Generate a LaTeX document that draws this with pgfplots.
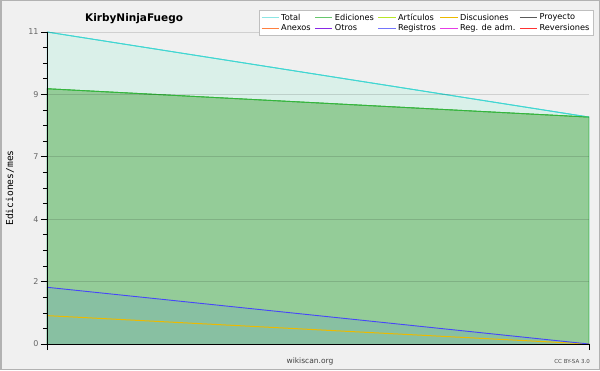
\documentclass[border=0pt]{standalone}
\usepackage{fontspec}
\setmainfont{DejaVu Sans}
\newfontfamily\monofont{DejaVu Sans Mono}
\usepackage{pgfplots}
\pgfplotsset{compat=1.18}
\definecolor{bgc}{RGB}{240,240,240}
\definecolor{cTotal}{RGB}{64,214,210}
\definecolor{fTotal}{RGB}{218,240,233}
\definecolor{cEdic}{RGB}{52,180,60}
\definecolor{fEdic}{RGB}{148,204,152}
\definecolor{cArt}{RGB}{184,230,40}
\definecolor{cDisc}{RGB}{236,186,0}
\definecolor{cProy}{RGB}{90,90,90}
\definecolor{cAnex}{RGB}{255,128,64}
\definecolor{cOtros}{RGB}{136,40,230}
\definecolor{cReg}{RGB}{70,70,250}
\definecolor{fReg}{RGB}{136,192,162}
\definecolor{cRegAdm}{RGB}{230,60,230}
\definecolor{cRev}{RGB}{255,50,50}
\begin{document}
\begin{tikzpicture}[x=1pt,y=1pt]
\useasboundingbox (0,0) rectangle (600,370);
\fill[bgc] (0,0) rectangle (600,370);
\draw[black!30,line width=1.5pt] (0.75,0.75) rectangle (599.25,369.25);
\begin{axis}[
  at={(47pt,26pt)}, anchor=south west,
  scale only axis, width=542pt, height=312pt,
  xmin=0, xmax=1, ymin=0, ymax=11,
  axis lines*=left,
  axis line style={black, line width=0.8pt},
  axis on top,
  xtick={0,1}, xticklabels={},
  ytick={0,2.2,4.4,6.6,8.8,11},
  yticklabels={0,2,4,7,9,11},
  minor y tick num=3,
  tick align=outside,
  major tick length=6pt, minor tick length=4pt,
  tick style={black, line width=0.6pt},
  ymajorgrids, grid style={black, opacity=0.13, line width=0.8pt},
  /pgf/number format/assume math mode=true,
  yticklabel style={font=\fontsize{8}{9}\selectfont, text=black!60, xshift=1pt},
  legend columns=5,
  legend cell align=left,
  legend style={at={(1.0074,1.0705)}, anchor=north east,
    font=\fontsize{8.2}{9}\selectfont, draw=black!25, fill=white,
    inner sep=1.5pt, row sep=-1.5pt,
    /tikz/every even column/.append style={column sep=2pt},
    /tikz/every odd column/.append style={column sep=0pt}},
]
% Total
\addplot[draw=cTotal, line width=0.9pt, fill=fTotal, forget plot] coordinates {(0,11) (1,8)} \closedcycle;
% Ediciones
\addplot[draw=cEdic, line width=0.9pt, fill=fEdic, forget plot] coordinates {(0,9) (1,8)} \closedcycle;
% Registros
\addplot[draw=none, fill=fReg, forget plot] coordinates {(0,2) (1,0)} \closedcycle;
% Discusiones
\addplot[draw=cDisc, line width=1pt, forget plot] coordinates {(0,1) (1,0)};
\addplot[draw=cReg, line width=0.9pt, forget plot] coordinates {(0,2) (1,0)};
\addplot[draw=cTotal, line width=0.9pt, forget plot] coordinates {(0,11) (1,8)};
\addplot[draw=cEdic, line width=0.9pt, forget plot] coordinates {(0,9) (1,8)};
\addlegendimage{draw=cTotal!60, line width=1.1pt}\addlegendentry{Total}
\addlegendimage{draw=cEdic!75, line width=1.1pt}\addlegendentry{Ediciones}
\addlegendimage{draw=cArt, line width=1.1pt}\addlegendentry{Artículos}
\addlegendimage{draw=cDisc, line width=1.1pt}\addlegendentry{Discusiones}
\addlegendimage{draw=cProy, line width=1.1pt}\addlegendentry{Proyecto}
\addlegendimage{draw=cAnex, line width=1.1pt}\addlegendentry{Anexos}
\addlegendimage{draw=cOtros, line width=1.1pt}\addlegendentry{Otros}
\addlegendimage{draw=cReg!75, line width=1.1pt}\addlegendentry{Registros}
\addlegendimage{draw=cRegAdm, line width=1.1pt}\addlegendentry{Reg. de adm.}
\addlegendimage{draw=cRev, line width=1.1pt}\addlegendentry{Reversiones}
\end{axis}
\node[anchor=base west, font=\bfseries\fontsize{10.5}{12}\selectfont, inner sep=0pt] at (85,348) {KirbyNinjaFuego};
\node[rotate=90, font=\monofont\fontsize{9.6}{10}\selectfont, inner sep=0pt] at (10,182) {Ediciones/mes};
\node[anchor=base, font=\fontsize{7.5}{8}\selectfont, text=black!75, inner sep=0pt] at (310,7) {wikiscan.org};
\node[anchor=base east, font=\fontsize{5.5}{6}\selectfont, text=black!70, inner sep=0pt] at (590,7) {CC BY-SA 3.0};
\end{tikzpicture}
\end{document}
